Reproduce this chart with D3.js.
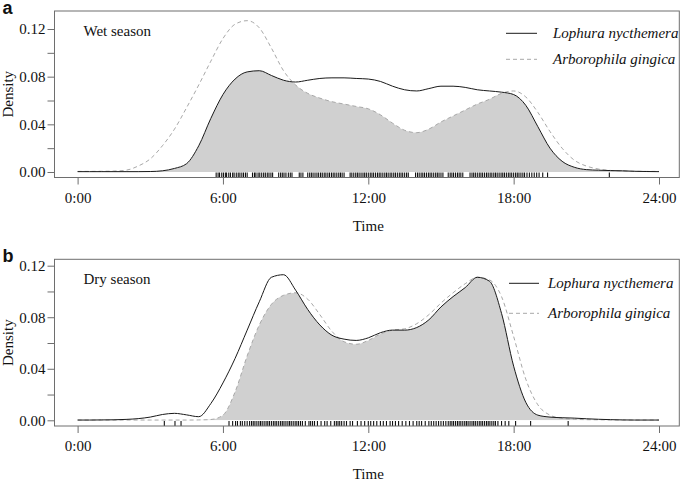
<!DOCTYPE html>
<html>
<head>
<meta charset="utf-8">
<script src="https://cdn.jsdelivr.net/npm/d3@7"></script>
<style>
  html, body { margin: 0; padding: 0; background: #fff; }
  svg { display: block; }
  text { font-family: "Liberation Serif", "Times New Roman", serif; fill: #111; }
</style>
</head>
<body>
<svg id="chart" width="685" height="481"></svg>
<script>
// ---- data (hours of day, kernel density estimates) ----
const hours = [0,0.5,1,1.5,2,2.5,3,3.5,4,4.5,5,5.5,6,6.5,7,7.5,8,8.5,9,9.5,10,10.5,11,11.5,12,
  12.5,13,13.5,14,14.5,15,15.5,16,16.5,17,17.5,18,18.5,19,19.5,20,20.5,21,21.5,22,22.5,23,23.5,24];

const lophuraWet = [0.0003,0.0003,0.0003,0.0003,0.0003,0.0003,0.0004,0.001,0.003,0.007,0.022,0.045,0.065,0.078,0.084,0.085,
  0.081,0.077,0.0755,0.077,0.0785,0.079,0.079,0.0785,0.078,0.076,0.072,0.069,0.068,0.070,0.072,0.072,0.071,0.069,
  0.068,0.067,0.065,0.056,0.038,0.020,0.009,0.004,0.002,0.0015,0.0012,0.001,0.0006,0.0004,0.0003];
const arboWet = [0.0005,0.0005,0.0006,0.0008,0.0015,0.005,0.011,0.022,0.036,0.054,0.073,0.093,0.112,0.124,0.127,0.121,
  0.104,0.085,0.073,0.066,0.062,0.059,0.057,0.055,0.053,0.048,0.041,0.035,0.033,0.036,0.042,0.047,0.052,0.057,
  0.061,0.066,0.068,0.063,0.050,0.034,0.020,0.010,0.005,0.0025,0.0013,0.0008,0.0006,0.0005,0.0005];

const lophuraDry = [0.0002,0.0002,0.0003,0.0004,0.0007,0.0013,0.0025,0.0045,0.0054,0.0042,0.0028,0.013,0.029,0.048,0.070,0.092,
  0.111,0.113,0.101,0.086,0.074,0.066,0.063,0.062,0.064,0.068,0.070,0.070,0.072,0.078,0.088,0.096,0.103,0.111,
  0.108,0.083,0.042,0.014,0.004,0.0025,0.002,0.0017,0.0012,0.0008,0.0005,0.0003,0.0002,0.0002,0.0002];
const arboDry = [0.0002,0.0002,0.0002,0.0002,0.0002,0.0002,0.0002,0.0002,0.0002,0.0002,0.0003,0.0006,0.004,0.022,0.050,0.074,
  0.090,0.097,0.099,0.094,0.082,0.069,0.061,0.059,0.062,0.067,0.070,0.071,0.075,0.082,0.091,0.099,0.106,0.111,
  0.109,0.096,0.065,0.032,0.012,0.004,0.0015,0.0008,0.0005,0.0004,0.0003,0.0002,0.0002,0.0002,0.0002];

// rug: observation times (hours)
const rugWet = [5.72,5.80,5.86,5.95,6.02,6.10,6.15,6.24,6.31,6.40,6.46,6.55,6.63,6.70,6.78,6.85,6.93,7.00,7.22,7.30,
  7.36,7.45,7.52,7.60,7.68,7.75,7.83,7.90,7.98,8.05,8.30,8.38,8.45,8.52,8.60,8.70,8.78,8.85,9.15,9.22,9.30,9.50,
  9.58,9.65,9.72,9.80,9.88,9.95,10.03,10.10,10.18,10.25,10.33,10.40,10.48,10.55,10.62,10.70,10.78,10.85,10.92,
  11.00,11.25,11.32,11.40,11.48,11.55,11.62,11.70,11.78,11.85,11.92,12.00,12.08,12.15,12.22,12.30,12.38,12.45,
  12.52,12.60,12.68,12.75,12.82,12.90,12.97,13.05,13.12,13.20,13.28,13.35,13.42,13.50,13.58,13.65,13.95,14.03,
  14.10,14.18,14.25,14.32,14.40,14.48,14.55,14.62,14.70,14.78,14.85,14.92,15.00,15.08,15.30,15.38,15.45,15.52,
  15.60,15.68,15.75,15.82,15.90,16.20,16.28,16.35,16.42,16.50,16.58,16.65,16.72,16.80,16.88,16.95,17.03,17.10,
  17.18,17.25,17.32,17.40,17.48,17.55,17.62,17.70,17.78,17.85,17.92,18.00,18.08,18.15,18.22,18.30,18.38,18.45,
  18.55,18.65,18.75,18.85,18.95,19.05,19.20,19.40,21.95];
const rugDry = [3.58,4.02,4.27,6.25,6.40,6.52,6.60,6.72,6.80,6.90,7.00,7.10,7.18,7.25,7.32,7.40,7.48,7.55,7.62,7.70,
  7.78,7.85,7.92,8.00,8.08,8.15,8.22,8.30,8.38,8.45,8.52,8.60,8.68,8.75,8.82,8.90,8.98,9.05,9.12,9.20,9.28,9.40,
  9.55,9.62,9.70,9.78,9.90,10.05,10.20,10.30,10.45,10.60,10.68,10.75,10.82,10.90,11.00,11.10,11.25,11.35,11.55,
  11.70,11.85,12.00,12.10,12.22,12.35,12.50,12.62,12.75,12.90,13.00,13.12,13.25,13.40,13.55,13.70,13.85,14.00,
  14.10,14.20,14.35,14.50,14.60,14.70,14.80,14.90,15.00,15.10,15.20,15.30,15.38,15.45,15.52,15.60,15.68,15.75,
  15.82,15.90,15.98,16.05,16.12,16.20,16.28,16.35,16.42,16.50,16.58,16.65,16.72,16.80,16.88,16.95,17.02,17.10,
  17.18,17.25,17.35,17.50,17.65,17.80,18.08,18.70,20.25];

const xTicks = [0, 6, 12, 18, 24];
const yTicks = [0, 0.02, 0.04, 0.06, 0.08, 0.10, 0.12];
const yLabelled = [0, 0.04, 0.08, 0.12];
const speciesNames = ["Lophura nycthemera", "Arborophila gingica"];
const seasonNames = ["Wet season", "Dry season"];
const panelLetters = ["a", "b"];

// ---- layout ----
const panels = [
  { letter: panelLetters[0], season: seasonNames[0], A: lophuraWet, B: arboWet, rug: rugWet,
    top: 11, bottom: 177.5, y0: 172, y12: 29, legX1: 506, legX2: 537, legText: 553, legY1: 33.3, legY2: 59.3 },
  { letter: panelLetters[1], season: seasonNames[1], A: lophuraDry, B: arboDry, rug: rugDry,
    top: 259.3, bottom: 426, y0: 420.3, y12: 265.7, legX1: 509, legX2: 539, legText: 548, legY1: 283.3, legY2: 313.3 }
];
const boxLeft = 54.5, boxRight = 679.3;
const x = d3.scaleLinear().domain([0, 24]).range([77.6, 659]);

const svg = d3.select("#chart");
const boxColor = "#6e6e6e";

panels.forEach((p, i) => {
  const y = d3.scaleLinear().domain([0, 0.12]).range([p.y0, p.y12]);
  const g = svg.append("g");

  const ptsA = hours.map((h, k) => [h, p.A[k]]);
  const ptsB = hours.map((h, k) => [h, p.B[k]]);
  const curve = d3.curveMonotoneX;
  const area = d3.area().x(d => x(d[0])).y0(y(0)).y1(d => y(d[1])).curve(curve);
  const line = d3.line().x(d => x(d[0])).y(d => y(d[1])).curve(curve);

  // overlap = area under A intersected with area under B
  const clipId = "clipB" + i;
  svg.append("clipPath").attr("id", clipId)
    .append("path").attr("d", area(ptsB));
  g.append("path").attr("d", area(ptsA))
    .attr("clip-path", `url(#${clipId})`)
    .attr("fill", "#d0d0d0");

  // density lines
  g.append("path").attr("d", line(ptsB))
    .attr("fill", "none").attr("stroke", "#a8a8a8").attr("stroke-width", 1)
    .attr("stroke-dasharray", "4,3");
  g.append("path").attr("d", line(ptsA))
    .attr("fill", "none").attr("stroke", "#1a1a1a").attr("stroke-width", 1);

  // rug
  g.selectAll("line.rug").data(p.rug).enter().append("line")
    .attr("class", "rug")
    .attr("x1", d => x(d)).attr("x2", d => x(d))
    .attr("y1", p.bottom - 5).attr("y2", p.bottom)
    .attr("stroke", "#111").attr("stroke-width", 1.1);

  // box
  g.append("rect").attr("x", boxLeft).attr("y", p.top)
    .attr("width", boxRight - boxLeft).attr("height", p.bottom - p.top)
    .attr("fill", "none").attr("stroke", boxColor).attr("stroke-width", 1);

  // y axis
  const yAxis = d3.axisLeft(y).tickValues(yTicks).tickSize(7).tickPadding(2)
    .tickFormat(d => yLabelled.some(v => Math.abs(v - d) < 1e-9) ? d3.format(".2f")(d) : "");
  const ya = g.append("g").attr("transform", `translate(${boxLeft},0)`).call(yAxis);
  ya.select(".domain").remove();
  ya.selectAll("line").attr("stroke", boxColor);
  ya.selectAll("text").attr("font-size", 15).attr("font-family", "Liberation Serif").attr("fill", "#111");

  // x axis
  const xAxis = d3.axisBottom(x).tickValues(xTicks).tickSize(7).tickPadding(7.5)
    .tickFormat(d => d + ":00");
  const xa = g.append("g").attr("transform", `translate(0,${p.bottom})`).call(xAxis);
  xa.select(".domain").remove();
  xa.selectAll("line").attr("stroke", boxColor);
  xa.selectAll("text").attr("font-size", 15).attr("font-family", "Liberation Serif").attr("fill", "#111");

  // axis titles
  g.append("text").attr("x", (x(0) + x(24)) / 2).attr("y", p.bottom + 53)
    .attr("text-anchor", "middle").attr("font-size", 15).text("Time");
  g.append("text")
    .attr("transform", `translate(13,${(p.top + p.bottom) / 2}) rotate(-90)`)
    .attr("text-anchor", "middle").attr("font-size", 15).text("Density");

  // season label
  g.append("text").attr("x", 83.5).attr("y", p.top + 24.5)
    .attr("font-size", 15).text(p.season);

  // panel letter
  g.append("text").attr("x", 2.5).attr("y", p.top + 2.5)
    .attr("font-weight", "bold")
    .attr("font-size", 18).style("font-family", "'Liberation Sans', Arial, sans-serif").text(p.letter);

  // legend
  g.append("line").attr("x1", p.legX1).attr("x2", p.legX2).attr("y1", p.legY1).attr("y2", p.legY1)
    .attr("stroke", "#1a1a1a").attr("stroke-width", 1);
  g.append("line").attr("x1", p.legX1).attr("x2", p.legX2).attr("y1", p.legY2).attr("y2", p.legY2)
    .attr("stroke", "#a8a8a8").attr("stroke-width", 1).attr("stroke-dasharray", "4,3");
  g.append("text").attr("x", p.legText).attr("y", p.legY1 + 4.5)
    .attr("font-size", 15).attr("font-style", "italic").text(speciesNames[0]);
  g.append("text").attr("x", p.legText).attr("y", p.legY2 + 4.5)
    .attr("font-size", 15).attr("font-style", "italic").text(speciesNames[1]);
});
</script>
</body>
</html>
